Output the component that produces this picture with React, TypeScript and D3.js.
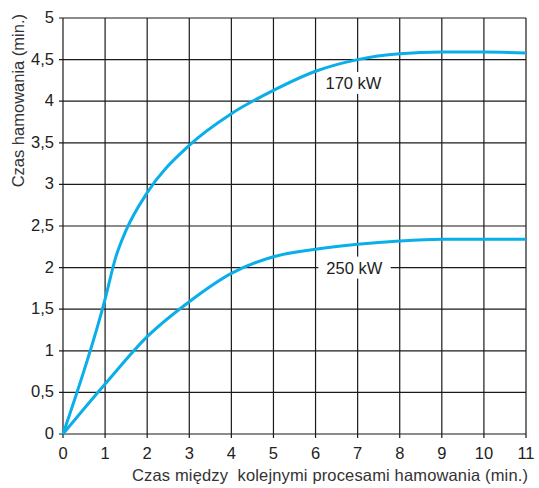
import React, { useEffect, useRef } from "react";
import * as d3 from "d3";

const xTicks = [0, 1, 2, 3, 4, 5, 6, 7, 8, 9, 10, 11];
const yTicks = [0, 0.5, 1, 1.5, 2, 2.5, 3, 3.5, 4, 4.5, 5];

const x170 = [0, 1, 1.25, 1.5, 2, 3, 4, 5, 6, 7, 8, 9, 10, 11];
const y170 = [0, 1.62, 2.12, 2.45, 2.9, 3.47, 3.85, 4.13, 4.36, 4.5, 4.57, 4.59, 4.59, 4.58];

const x250 = [0, 1, 2, 3, 4, 5, 6, 7, 8, 9, 10, 11];
const y250 = [0, 0.6, 1.17, 1.59, 1.93, 2.13, 2.22, 2.28, 2.32, 2.34, 2.34, 2.34];

const seriesLabels = ["170 kW", "250 kW"];
const labelX = [6.9, 6.92];
const labelY = [4.22, 2];

const xTitle = "Czas między\u00a0 kolejnymi procesami hamowania (min.)";
const yTitle = "Czas hamowania (min.)";

const W = 539, H = 488;
const M = { left: 63, right: 13, top: 18, bottom: 54 };
const FONT = "'Liberation Sans', Arial, sans-serif";
const FS = 16.5;

export default function App() {
  const ref = useRef<SVGSVGElement>(null);
  useEffect(() => {
    const svg = d3.select(ref.current);
    svg.selectAll("*").remove();
    const x = d3.scaleLinear().domain([0, 11]).range([M.left, W - M.right]);
    const y = d3.scaleLinear().domain([0, 5]).range([H - M.bottom, M.top]);
    const g = svg.append("g");

    // grid
    g.selectAll("line.h").data(yTicks).enter().append("line")
      .attr("x1", x(0) - 4).attr("x2", x(11))
      .attr("y1", d => y(d)).attr("y2", d => y(d))
      .attr("stroke", "#1a1a1a").attr("stroke-width", 1.2);
    g.selectAll("line.v").data(xTicks).enter().append("line")
      .attr("y1", y(5)).attr("y2", y(0) + 4)
      .attr("x1", d => x(d)).attr("x2", d => x(d))
      .attr("stroke", "#1a1a1a").attr("stroke-width", 1.2);

    // tick labels
    g.selectAll("text.yt").data(yTicks).enter().append("text")
      .attr("x", x(0) - 9).attr("y", d => y(d) + 5)
      .attr("text-anchor", "end").attr("font-family", FONT).attr("font-size", FS)
      .attr("fill", "#222")
      .text(d => String(d).replace(".", ","));
    g.selectAll("text.xt").data(xTicks).enter().append("text")
      .attr("x", d => x(d)).attr("y", y(0) + 25)
      .attr("text-anchor", "middle").attr("font-family", FONT).attr("font-size", FS)
      .attr("fill", "#222")
      .text(d => String(d));

    // titles
    g.append("text").attr("x", 132).attr("y", H - 7)
      .attr("text-anchor", "start").attr("font-family", FONT).attr("font-size", FS)
      .attr("textLength", 396).attr("lengthAdjust", "spacing")
      .attr("fill", "#333").text(xTitle);
    g.append("text").attr("transform", `translate(24, ${M.top - 4}) rotate(-90)`)
      .attr("text-anchor", "end").attr("font-family", FONT).attr("font-size", FS)
      .attr("fill", "#333").text(yTitle);

    // labels (white boxes break the grid)
    seriesLabels.forEach((t, i) => {
      const tx = x(labelX[i]), ty = y(labelY[i]);
      const txt = g.append("text").attr("x", tx).attr("y", ty + 6)
        .attr("text-anchor", "middle").attr("font-family", FONT).attr("font-size", FS)
        .attr("fill", "#222").text(t);
      const bb = (txt.node() as SVGTextElement).getBBox();
      g.insert("rect", () => txt.node() as any)
        .attr("x", bb.x - 8).attr("y", bb.y - 2).attr("width", bb.width + 16).attr("height", bb.height + 4)
        .attr("fill", "#fff");
    });

    const line = d3.line<[number, number]>().x(d => x(d[0])).y(d => y(d[1])).curve(d3.curveMonotoneX);
    const s170: [number, number][] = x170.map((v, i) => [v, y170[i]]);
    const s250: [number, number][] = x250.map((v, i) => [v, y250[i]]);
    [s170, s250].forEach(s => {
      g.append("path").attr("d", line(s)!).attr("fill", "none")
        .attr("stroke", "#0aaee8").attr("stroke-width", 3);
    });
  }, []);
  return <svg ref={ref} width={W} height={H} style={{ display: "block", position: "absolute", left: 0, top: 0 }} />;
}
